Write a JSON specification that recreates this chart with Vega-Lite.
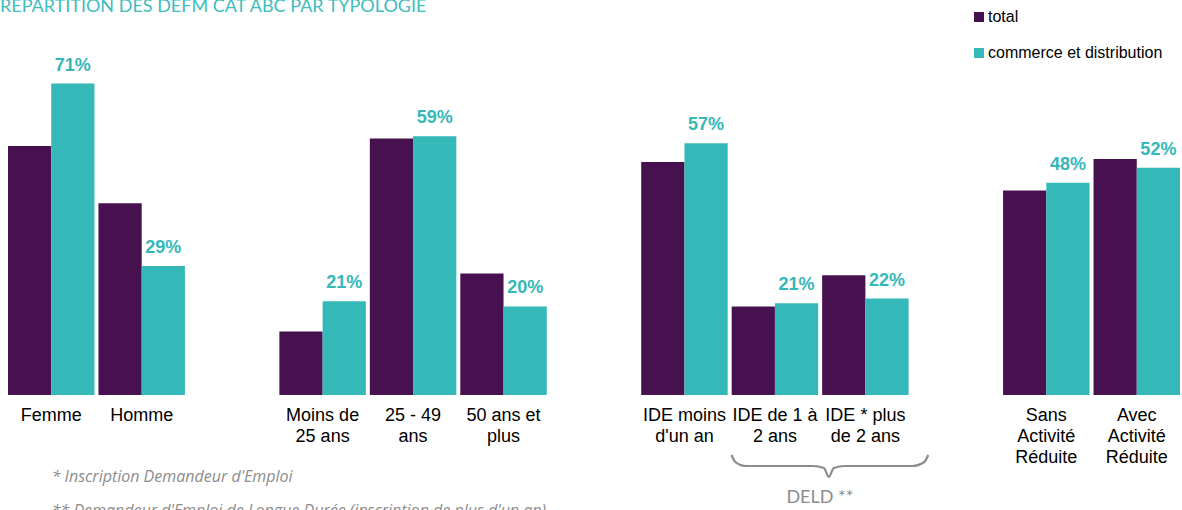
{
  "$schema": "https://vega.github.io/schema/vega-lite/v6.json",
  "width": 1176,
  "height": 375,
  "autosize": {"type": "none"},
  "padding": {"left": 6, "top": 20, "right": 0, "bottom": 115},
  "title": {"text": "RÉPARTITION DES DEFM CAT ABC PAR TYPOLOGIE", "anchor": "start", "frame": "group", "offset": 3, "dx": -6, "dy": 10, "font": "Lato", "fontSize": 18, "fontWeight": "normal", "color": "#3dbdbd"},
  "config": {"view": {"stroke": null}, "font": "Liberation Sans"},
  "datasets": {
    "bars": [
      {"cat": "Femme", "series": "total", "value": 0.568},
      {"cat": "Femme", "series": "commerce et distribution", "value": 0.71},
      {"cat": "Homme", "series": "total", "value": 0.437},
      {"cat": "Homme", "series": "commerce et distribution", "value": 0.294},
      {"cat": "Moins de|25 ans", "series": "total", "value": 0.145},
      {"cat": "Moins de|25 ans", "series": "commerce et distribution", "value": 0.214},
      {"cat": "25 - 49|ans", "series": "total", "value": 0.585},
      {"cat": "25 - 49|ans", "series": "commerce et distribution", "value": 0.59},
      {"cat": "50 ans et|plus", "series": "total", "value": 0.277},
      {"cat": "50 ans et|plus", "series": "commerce et distribution", "value": 0.202},
      {"cat": "IDE moins|d'un an", "series": "total", "value": 0.531},
      {"cat": "IDE moins|d'un an", "series": "commerce et distribution", "value": 0.574},
      {"cat": "IDE de 1 à|2 ans", "series": "total", "value": 0.202},
      {"cat": "IDE de 1 à|2 ans", "series": "commerce et distribution", "value": 0.209},
      {"cat": "IDE * plus|de 2 ans", "series": "total", "value": 0.273},
      {"cat": "IDE * plus|de 2 ans", "series": "commerce et distribution", "value": 0.22},
      {"cat": "Sans|Activité|Réduite", "series": "total", "value": 0.466},
      {"cat": "Sans|Activité|Réduite", "series": "commerce et distribution", "value": 0.484},
      {"cat": "Avec|Activité|Réduite", "series": "total", "value": 0.538},
      {"cat": "Avec|Activité|Réduite", "series": "commerce et distribution", "value": 0.518}
    ],
    "brace": [
      {"px": 8.02, "py": -0.1368},
      {"px": 8.063, "py": -0.1528},
      {"px": 8.184, "py": -0.1619},
      {"px": 8.920, "py": -0.1619},
      {"px": 9.041, "py": -0.1664},
      {"px": 9.096, "py": -0.1870},
      {"px": 9.151, "py": -0.1664},
      {"px": 9.272, "py": -0.1619},
      {"px": 10.019, "py": -0.1619},
      {"px": 10.151, "py": -0.1528},
      {"px": 10.195, "py": -0.1368}
    ],
    "deld": [
      {"px": 8.997, "py": -0.246, "txt": "DELD **"}
    ],
    "notes": [
      {"px": 0.505, "py": -0.198, "txt": "* Inscription Demandeur d'Emploi"},
      {"px": 0.505, "py": -0.276, "txt": "** Demandeur d'Emploi de Longue Durée (inscription de plus d'un an)"}
    ]
  },
  "layer": [
    {
      "data": {"name": "bars"},
      "encoding": {
        "x": {"field": "cat", "type": "nominal", "sort": null,
          "scale": {"domain": ["Femme", "Homme", " ", "Moins de|25 ans", "25 - 49|ans", "50 ans et|plus", "  ", "IDE moins|d'un an", "IDE de 1 à|2 ans", "IDE * plus|de 2 ans", "   ", "Sans|Activité|Réduite", "Avec|Activité|Réduite"], "paddingInner": 0.044, "paddingOuter": 0.022},
          "axis": {"title": null, "labelAngle": 0, "ticks": false, "domain": false, "labelExpr": "split(datum.label, '|')", "labelFontSize": 18, "labelColor": "#000000", "labelPadding": 11, "labelLineHeight": 21, "labelFont": "Liberation Sans"}},
        "xOffset": {"field": "series", "type": "nominal", "scale": {"domain": ["total", "commerce et distribution"]}},
        "y": {"field": "value", "type": "quantitative", "scale": {"domain": [0, 0.855], "nice": false, "zero": true}, "axis": null}
      },
      "layer": [
        {
          "mark": {"type": "bar"},
          "encoding": {
            "color": {"field": "series", "type": "nominal",
              "scale": {"domain": ["total", "commerce et distribution"], "range": ["#47104f", "#35b8b8"]},
              "legend": {"orient": "none", "legendX": 965, "legendY": -11, "direction": "vertical", "title": null, "symbolType": "square", "symbolSize": 100, "symbolStrokeWidth": 0, "labelFontSize": 16, "labelFont": "Liberation Sans", "labelColor": "#000000", "labelLimit": 400, "rowPadding": 20, "labelOffset": 1}}
          }
        },
        {
          "transform": [{"filter": "datum.series == 'commerce et distribution'"}],
          "mark": {"type": "text", "baseline": "alphabetic", "dy": -13, "fontSize": 18, "fontWeight": "bold", "color": "#35b8b8", "font": "Liberation Sans"},
          "encoding": {"text": {"field": "value", "type": "quantitative", "format": ".0%"}}
        }
      ]
    },
    {
      "data": {"name": "brace"},
      "mark": {"type": "line", "color": "#8c8c8c", "strokeWidth": 2.2, "interpolate": "monotone", "clip": false},
      "encoding": {
        "x": {"field": "px", "type": "quantitative", "scale": {"domain": [0, 13], "nice": false, "zero": false}, "axis": null},
        "y": {"field": "py", "type": "quantitative"},
        "order": {"field": "px"}
      }
    },
    {
      "data": {"name": "deld"},
      "mark": {"type": "text", "baseline": "alphabetic", "align": "center", "fontSize": 18, "color": "#8c8c8c", "font": "Lato"},
      "encoding": {
        "x": {"field": "px", "type": "quantitative", "scale": {"domain": [0, 13], "nice": false, "zero": false}, "axis": null},
        "y": {"field": "py", "type": "quantitative"},
        "text": {"field": "txt"}
      }
    },
    {
      "data": {"name": "notes"},
      "mark": {"type": "text", "baseline": "alphabetic", "align": "left", "fontStyle": "italic", "fontSize": 16, "color": "#8c8c8c", "font": "Open Sans"},
      "encoding": {
        "x": {"field": "px", "type": "quantitative", "scale": {"domain": [0, 13], "nice": false, "zero": false}, "axis": null},
        "y": {"field": "py", "type": "quantitative"},
        "text": {"field": "txt"}
      }
    }
  ],
  "resolve": {"scale": {"x": "independent"}}
}
